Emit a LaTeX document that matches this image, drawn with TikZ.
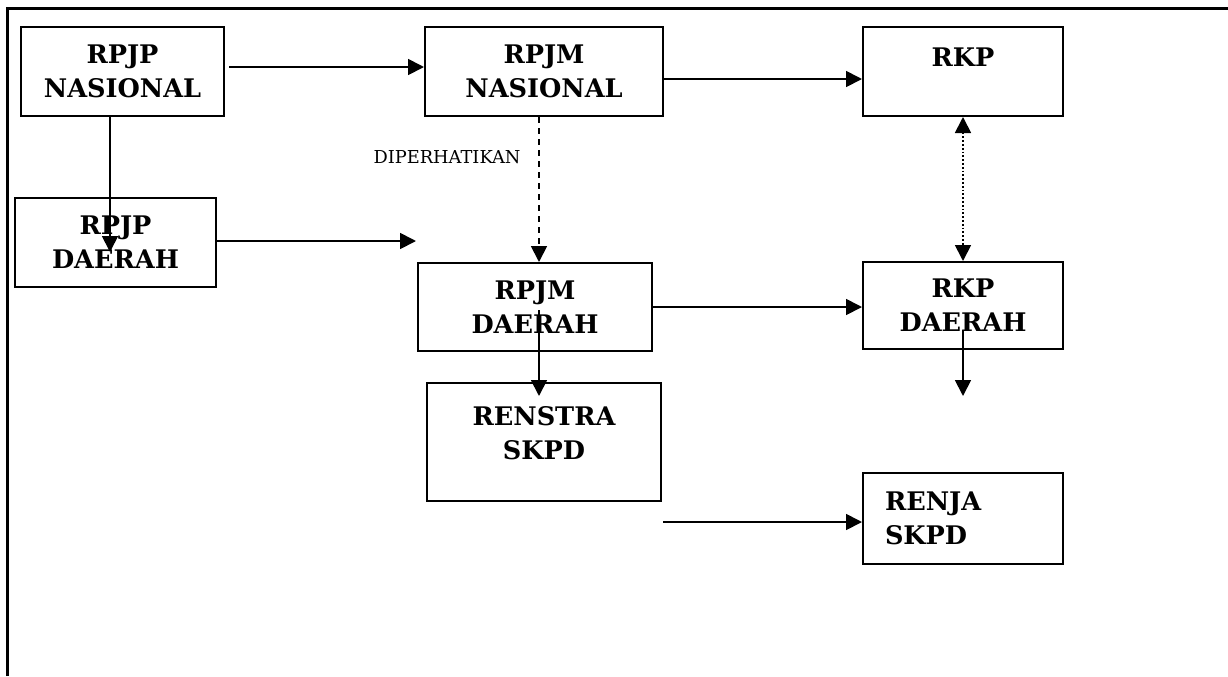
\documentclass[tikz,border=0pt]{standalone}
\usepackage{fontspec}
\setmainfont{DejaVu Serif}
\usetikzlibrary{arrows.meta}
\begin{document}
\begin{tikzpicture}[x=0.5pt,y=-0.5pt,
  box/.style={draw, line width=1pt, inner sep=0pt, align=center,
    font=\bfseries\fontsize{12.8}{17}\selectfont},
  arr/.style={line width=0.9pt, -{Triangle[length=8pt,width=8pt]}},
  arrboth/.style={line width=0.9pt, {Triangle[length=8pt,width=8pt]}-{Triangle[length=8pt,width=8pt]}},
  lbl/.style={font=\fontsize{8.9}{11}\selectfont, inner sep=0pt}
]
\useasboundingbox (0,0) rectangle (1228,676);
\draw[line width=1.5pt] (7,676) -- (7,8) -- (1228,8);

\node[box, minimum width=101.5pt, minimum height=44.5pt] (rpjpn) at (122.5,71.5) {RPJP\\NASIONAL};
\node[box, minimum width=119pt, minimum height=44.5pt] (rpjmn) at (544,71.5) {RPJM\\NASIONAL};
\node[box, minimum width=100pt, minimum height=44.5pt] (rkp) at (963,71.5) {RKP\\[-2.5pt]\mbox{}};
\node[box, minimum width=100.5pt, minimum height=44.5pt] (rpjpd) at (115.5,242.5) {RPJP\\DAERAH};
\node[box, minimum width=117pt, minimum height=44pt] (rpjmd) at (535,307) {RPJM\\DAERAH};
\node[box, minimum width=117pt, minimum height=59pt] (renstra) at (544,442) {RENSTRA\\SKPD\\[-8pt]\mbox{}};
\node[box, minimum width=100pt, minimum height=43.5pt] (rkpd) at (963,305.5) {RKP\\DAERAH};
\node[box, minimum width=100pt, minimum height=45.5pt, text width=78pt, align=left] (renja) at (963,518.5) {RENJA\\SKPD};

\node[lbl] (dip) at (447,157) {DIPERHATIKAN};

\coordinate (c1) at (110,252);
\coordinate (c2) at (416,241);
\coordinate (c3s) at (539,310);
\coordinate (c3e) at (539,396);
\coordinate (c4s) at (963,330);
\coordinate (c4e) at (963,396);
\coordinate (c5s) at (663,522);

\draw[arr] ([xshift=2pt,yshift=2.25pt]rpjpn.east) -- ([yshift=2.25pt]rpjmn.west);
\draw[arr] ([yshift=-3.75pt]rpjmn.east) -- ([yshift=-3.75pt]rkp.west);
\draw[arr] ([xshift=-6.25pt]rpjpn.south) -- (c1);
\draw[arr] ([yshift=0.75pt]rpjpd.east) -- (c2);
\draw[arr, dash pattern=on 3pt off 2.5pt] ([xshift=-2.5pt]rpjmn.south) -- ([xshift=-2.5pt]rpjmn.south |- rpjmd.north);
\draw[arrboth, densely dotted] (rkp.south) -- (rkpd.north);
\draw[arr] (rpjmd.east) -- (rpjmd.east -| rkpd.west);
\draw[arr] (c3s) -- (c3e);
\draw[arr] (c4s) -- (c4e);
\draw[arr] (c5s) -- (c5s -| renja.west);
\end{tikzpicture}
\end{document}
